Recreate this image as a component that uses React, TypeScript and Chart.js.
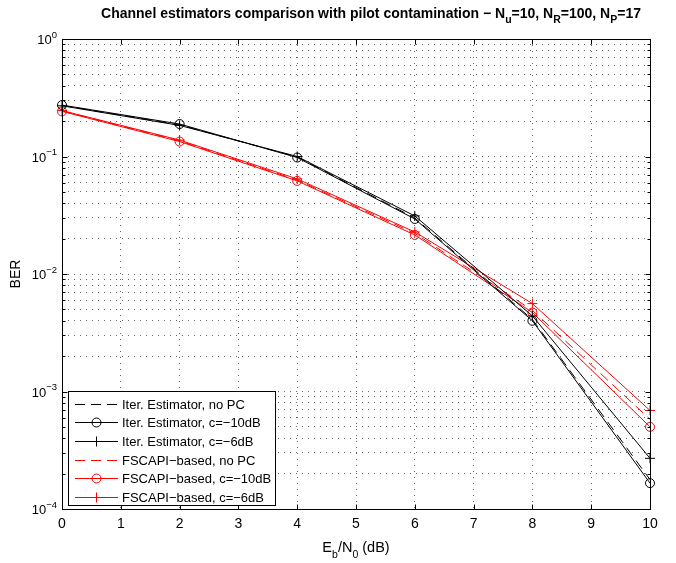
import React, { useEffect, useRef } from 'react';
import { Chart, registerables } from 'chart.js';
Chart.register(...registerables);

// ---------- data ----------
const snrDb = [0, 2, 4, 6, 8, 10];
const iterNoPC = [0.272, 0.186, 0.099, 0.0300, 0.0041, 0.000178];
const iterC10 = [0.274, 0.189, 0.098, 0.0294, 0.0040, 0.000166];
const iterC6 = [0.270, 0.184, 0.100, 0.0312, 0.0044, 0.00027];
const fsNoPC = [0.245, 0.136, 0.063, 0.0222, 0.0049, 0.00058];
const fsC10 = [0.242, 0.134, 0.062, 0.0215, 0.0047, 0.00050];
const fsC6 = [0.246, 0.138, 0.0645, 0.0228, 0.0056, 0.00069];

const seriesLabels = [
  'Iter. Estimator, no PC',
  'Iter. Estimator, c=\u221210dB',
  'Iter. Estimator, c=\u22126dB',
  'FSCAPI\u2212based, no PC',
  'FSCAPI\u2212based, c=\u221210dB',
  'FSCAPI\u2212based, c=\u22126dB',
];
const xTickValues = [0, 1, 2, 3, 4, 5, 6, 7, 8, 9, 10];
const yDecades = [-4, -3, -2, -1, 0];
const yGridValues: number[] = [];
for (let e = -4; e < 0; e++) for (let m = 1; m <= 9; m++) yGridValues.push(m * Math.pow(10, e));
yGridValues.push(1);

const FONT = '"Liberation Sans", Arial, Helvetica, sans-serif';
const W = 676, H = 563;

type Part = { t: string; sub?: boolean; sup?: boolean };

function drawRich(ctx: CanvasRenderingContext2D, parts: Part[], x: number, y: number, size: number, small: number, bold: boolean, align: 'left' | 'center' | 'right') {
  const f = (s: number) => `${bold ? 'bold ' : ''}${s}px ${FONT}`;
  let total = 0;
  const widths = parts.map(p => {
    ctx.font = f(p.sub || p.sup ? small : size);
    const w = ctx.measureText(p.t).width;
    total += w;
    return w;
  });
  let cx = align === 'left' ? x : align === 'center' ? x - total / 2 : x - total;
  ctx.textAlign = 'left';
  ctx.textBaseline = 'alphabetic';
  parts.forEach((p, i) => {
    ctx.font = f(p.sub || p.sup ? small : size);
    const dy = p.sub ? size * 0.38 : p.sup ? -size * 0.5 : 0;
    ctx.fillText(p.t, cx, y + dy);
    cx += widths[i];
  });
}

const decorPlugin = {
  id: 'decor',
  afterDatasetsDraw(chart: any) {
    const { ctx, chartArea: a, scales } = chart;
    const xs = scales.x, ys = scales.y;
    const L = Math.round(a.left) + 0.5, R = Math.round(a.right) + 0.5;
    const T = Math.round(a.top) + 0.5, B = Math.round(a.bottom) + 0.5;
    ctx.save();
    ctx.strokeStyle = '#000';
    ctx.fillStyle = '#000';
    ctx.lineWidth = 1;
    ctx.setLineDash([]);
    ctx.strokeRect(L, T, R - L, B - T);
    const line = (x1: number, y1: number, x2: number, y2: number) => {
      ctx.beginPath(); ctx.moveTo(x1, y1); ctx.lineTo(x2, y2); ctx.stroke();
    };
    // x ticks
    xTickValues.forEach(v => {
      const px = Math.round(xs.getPixelForValue(v)) + 0.5;
      line(px, B, px, B - 5);
      line(px, T, px, T + 5);
    });
    // y ticks
    yGridValues.forEach(v => {
      const py = Math.round(ys.getPixelForValue(v)) + 0.5;
      const major = Math.abs(Math.log10(v) - Math.round(Math.log10(v))) < 1e-9;
      const len = major ? 5 : 3;
      line(L, py, L + len, py);
      line(R, py, R - len, py);
    });
    // x labels
    ctx.font = `14px ${FONT}`;
    ctx.textAlign = 'center';
    ctx.textBaseline = 'alphabetic';
    xTickValues.forEach(v => {
      ctx.fillText(String(v), xs.getPixelForValue(v), 528);
    });
    // y labels
    yDecades.forEach(e => {
      const py = ys.getPixelForValue(Math.pow(10, e));
      const exp = e === 0 ? '0' : '\u2212' + String(-e);
      drawRich(ctx, [{ t: '10' }, { t: exp, sup: true }], 57, py + 5, 13, 9.5, false, 'right');
    });
    // axis titles
    drawRich(ctx, [{ t: 'E' }, { t: 'b', sub: true }, { t: '/N' }, { t: '0', sub: true }, { t: ' (dB)' }], 356, 552, 14.5, 10.5, false, 'center');
    ctx.save();
    ctx.translate(20, (a.top + a.bottom) / 2);
    ctx.rotate(-Math.PI / 2);
    ctx.font = `14px ${FONT}`;
    ctx.textAlign = 'center';
    ctx.fillText('BER', 0, 0);
    ctx.restore();
    // title
    drawRich(ctx, [
      { t: 'Channel estimators comparison with pilot contamination \u2212 N' }, { t: 'u', sub: true },
      { t: '=10, N' }, { t: 'R', sub: true }, { t: '=100, N' }, { t: 'P', sub: true }, { t: '=17' },
    ], 371, 18, 14, 10.5, true, 'center');

    // legend
    const lx = 68.5, ly = 391.5, lw = 207, lh = 114;
    ctx.fillStyle = '#fff';
    ctx.fillRect(lx, ly, lw, lh);
    ctx.strokeStyle = '#000';
    ctx.strokeRect(lx, ly, lw, lh);
    chart.data.datasets.forEach((ds: any, i: number) => {
      const yy = Math.round(403.5 + i * 18.7) + 0.5;
      ctx.strokeStyle = ds.borderColor;
      ctx.lineWidth = 1;
      ctx.setLineDash(ds.borderDash || []);
      line(75, yy, 118, yy);
      ctx.setLineDash([]);
      const mx = 96.5;
      if (ds.pointStyle === 'circle' && ds.pointRadius > 0) {
        ctx.beginPath(); ctx.arc(mx, yy, ds.pointRadius, 0, Math.PI * 2); ctx.stroke();
      } else if (ds.pointStyle === 'cross' && ds.pointRadius > 0) {
        line(mx - ds.pointRadius, yy, mx + ds.pointRadius, yy);
        line(mx, yy - ds.pointRadius, mx, yy + ds.pointRadius);
      }
      ctx.fillStyle = '#000';
      ctx.font = `13px ${FONT}`;
      ctx.textAlign = 'left';
      ctx.textBaseline = 'middle';
      ctx.fillText(ds.label, 122, yy + 0.5);
    });
    ctx.restore();
  },
};

function mk(label: string, data: number[], color: string, dash: number[], style: string, radius: number) {
  return {
    label,
    data: snrDb.map((x, i) => ({ x, y: data[i] })),
    borderColor: color,
    backgroundColor: 'rgba(0,0,0,0)',
    borderWidth: 1,
    borderDash: dash,
    pointStyle: style,
    pointRadius: radius,
    pointBorderWidth: 1,
    pointBorderColor: color,
    pointBackgroundColor: 'rgba(0,0,0,0)',
    pointHoverRadius: radius,
    tension: 0,
    fill: false,
    clip: false as any,
  };
}

export default function App() {
  const ref = useRef<HTMLCanvasElement>(null);
  useEffect(() => {
    document.body.style.margin = '0';
    const canvas = ref.current!;
    const chart = new Chart(canvas, {
      type: 'line',
      data: {
        datasets: [
          mk(seriesLabels[0], iterNoPC, '#000000', [10, 6], 'circle', 0),
          mk(seriesLabels[1], iterC10, '#000000', [], 'circle', 4.5),
          mk(seriesLabels[2], iterC6, '#000000', [], 'cross', 5),
          mk(seriesLabels[3], fsNoPC, '#ff0000', [10, 6], 'circle', 0),
          mk(seriesLabels[4], fsC10, '#ff0000', [], 'circle', 4.5),
          mk(seriesLabels[5], fsC6, '#ff0000', [], 'cross', 5),
        ] as any,
      },
      options: {
        animation: false,
        responsive: false,
        maintainAspectRatio: false,
        devicePixelRatio: 1,
        events: [],
        layout: { padding: { top: 39, right: 26, left: 0, bottom: 0 } },
        plugins: { legend: { display: false }, title: { display: false }, tooltip: { enabled: false } },
        scales: {
          x: {
            type: 'linear',
            min: 0,
            max: 10,
            ticks: { display: false, stepSize: 1 },
            afterBuildTicks: (s: any) => { s.ticks = xTickValues.map(v => ({ value: v })); },
            afterFit: (s: any) => { s.height = 54; },
            grid: { display: true, color: 'rgba(0,0,0,0.6)', lineWidth: 1, drawTicks: false },
            border: { display: false, dash: [1, 5] },
          },
          y: {
            type: 'logarithmic',
            min: 1e-4,
            max: 1,
            ticks: { display: false },
            afterBuildTicks: (s: any) => { s.ticks = yGridValues.map(v => ({ value: v })); },
            afterFit: (s: any) => { s.width = 62; },
            grid: { display: true, color: 'rgba(0,0,0,0.6)', lineWidth: 1, drawTicks: false },
            border: { display: false, dash: [1, 5] },
          },
        },
      },
      plugins: [decorPlugin],
    } as any);
    return () => chart.destroy();
  }, []);
  return (
    <div style={{ position: 'absolute', left: 0, top: 0, width: W, height: H, background: '#fff' }}>
      <canvas ref={ref} width={W} height={H} style={{ display: 'block', width: W, height: H }} />
    </div>
  );
}
